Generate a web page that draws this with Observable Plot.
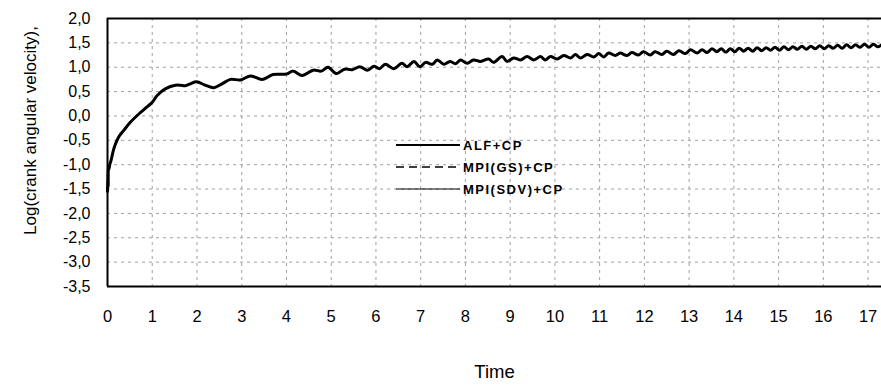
<!DOCTYPE html>
<html>
<head>
<meta charset="utf-8">
<script src="https://cdn.jsdelivr.net/npm/d3@7"></script>
<script src="https://cdn.jsdelivr.net/npm/@observablehq/plot@0.6"></script>
<style>
  html, body { margin: 0; padding: 0; background: #fff; }
  #wrap { position: relative; width: 881px; height: 387px; font-family: "Liberation Sans", Arial, sans-serif; }
  #legend { position: absolute; left: 396px; top: 134px; }
  .row { display: flex; align-items: center; height: 22px; }
  .row svg { display: block; margin-right: 3px; }
  .row span { font-size: 13px; font-weight: bold; letter-spacing: 1.5px; color: #000; }
</style>
</head>
<body>
<div id="wrap"><div id="chart"></div><div id="legend"></div></div>
<script>
// Series names (legend)
const seriesNames = ["ALF+CP", "MPI(GS)+CP", "MPI(SDV)+CP"];
// Axis ticks
const xTicks = [0,1,2,3,4,5,6,7,8,9,10,11,12,13,14,15,16,17];
const yTicks = [2.0,1.5,1.0,0.5,0.0,-0.5,-1.0,-1.5,-2.0,-2.5,-3.0,-3.5];
const xLabel = "Time";
const yLabel = "Log(crank angular velocity),";
// Time values
const timeVals = [
  0.00,0.01,0.015,0.02,0.03,0.05,0.08,0.13,0.18,0.25,0.36,0.51,0.70,0.89,1.00,1.11,1.30,1.52,1.63,1.74,
  1.85,1.99,2.19,2.38,2.56,2.75,2.97,3.20,3.46,3.70,4.00,4.15,4.35,4.60,4.78,4.93,5.11,5.30,5.47,5.64,
  5.81,5.96,6.08,6.21,6.40,6.58,6.70,6.85,6.98,7.11,7.26,7.37,7.52,7.66,7.78,7.89,8.04,8.18,8.34,8.52,
  8.63,8.82,8.93,9.08,9.23,9.38,9.53,9.68,9.78,9.90,10.05,10.20,10.35,10.46,10.57,10.72,10.87,10.98,11.09,11.20,
  11.35,11.46,11.61,11.72,11.87,11.98,12.13,12.24,12.39,12.50,12.65,12.77,12.92,13.03,13.18,13.29,13.40,13.51,13.62,13.72,
  13.82,13.92,14.02,14.12,14.22,14.32,14.42,14.52,14.62,14.72,14.82,14.92,15.02,15.12,15.22,15.32,15.42,15.52,15.62,15.72,
  15.82,15.92,16.02,16.12,16.22,16.32,16.42,16.52,16.62,16.72,16.82,16.92,17.02,17.12,17.22,17.30
];
// Log(crank angular velocity) — the three series overlap in the picture
const logVals = [
  -1.55,-1.20,-1.45,-1.05,-1.10,-1.00,-0.91,-0.71,-0.57,-0.43,-0.30,-0.13,0.04,0.19,0.28,0.42,0.56,0.63,0.63,0.62,
  0.66,0.70,0.63,0.58,0.66,0.75,0.74,0.82,0.75,0.85,0.86,0.92,0.83,0.94,0.92,1.00,0.87,0.96,0.95,1.01,
  0.94,1.02,0.97,1.06,0.97,1.08,1.01,1.12,1.01,1.10,1.06,1.15,1.06,1.12,1.07,1.15,1.08,1.15,1.12,1.17,
  1.10,1.22,1.12,1.19,1.15,1.22,1.15,1.22,1.15,1.22,1.17,1.24,1.19,1.26,1.19,1.26,1.21,1.28,1.21,1.29,
  1.24,1.29,1.24,1.30,1.25,1.32,1.25,1.32,1.26,1.33,1.26,1.34,1.28,1.36,1.29,1.36,1.30,1.38,1.32,1.38,
  1.31,1.38,1.32,1.39,1.33,1.39,1.33,1.40,1.34,1.40,1.35,1.41,1.35,1.42,1.36,1.42,1.37,1.43,1.37,1.43,
  1.38,1.44,1.38,1.44,1.39,1.45,1.39,1.46,1.40,1.46,1.41,1.47,1.41,1.47,1.42,1.46
];

const data = timeVals.map((t, i) => ({t, v: logVals[i]}));
const fmtY = d => d.toFixed(1).replace(".", ",");
const styles = [
  {stroke: "#000", strokeWidth: 3},
  {stroke: "#000", strokeWidth: 1.6, strokeDasharray: "8,5"},
  {stroke: "#000", strokeWidth: 1}
];

const chart = Plot.plot({
  width: 881,
  height: 387,
  marginLeft: 107,
  marginRight: 0,
  marginTop: 18,
  marginBottom: 101,
  x: {domain: [0, 17.3]},
  y: {domain: [-3.5, 2]},
  style: {fontFamily: "'Liberation Sans', Arial, sans-serif", background: "#fff", color: "#000"},
  marks: [
    Plot.gridX(xTicks, {stroke: "#a0a0a0", strokeOpacity: 1, strokeDasharray: "3,4"}),
    Plot.gridY(yTicks, {stroke: "#a0a0a0", strokeOpacity: 1, strokeDasharray: "3,4"}),
    Plot.axisX(xTicks, {tickSize: 0, tickPadding: 24, fontSize: 16.5, label: null, tickFormat: d => String(d)}),
    Plot.axisY(yTicks, {tickSize: 0, tickPadding: 17, fontSize: 16, label: null, tickFormat: fmtY}),
    Plot.ruleX([0], {stroke: "#000", strokeWidth: 2}),
    Plot.ruleY([-3.5, 2], {stroke: "#000", strokeWidth: 2}),
    ...seriesNames.map((name, i) => Plot.line(data, {x: "t", y: "v", curve: "catmull-rom", ...styles[i]})),
    Plot.text([xLabel], {text: d => d, frameAnchor: "bottom", dy: 91, fontSize: 18.5}),
    Plot.text([yLabel], {text: d => d, frameAnchor: "left", textAnchor: "middle", rotate: -90, dx: -77, dy: -22, fontSize: 17})
  ]
});
document.getElementById("chart").appendChild(chart);

// Legend
const legend = document.getElementById("legend");
seriesNames.forEach((name, i) => {
  const row = document.createElement("div");
  row.className = "row";
  const s = styles[i];
  row.innerHTML = `<svg width="64" height="10"><line x1="0" x2="64" y1="5" y2="5" stroke="${s.stroke}" stroke-width="${Math.min(s.strokeWidth, 2.2)}" ${s.strokeDasharray ? `stroke-dasharray="${s.strokeDasharray}"` : ""}/></svg><span>${name}</span>`;
  legend.appendChild(row);
});
</script>
</body>
</html>
